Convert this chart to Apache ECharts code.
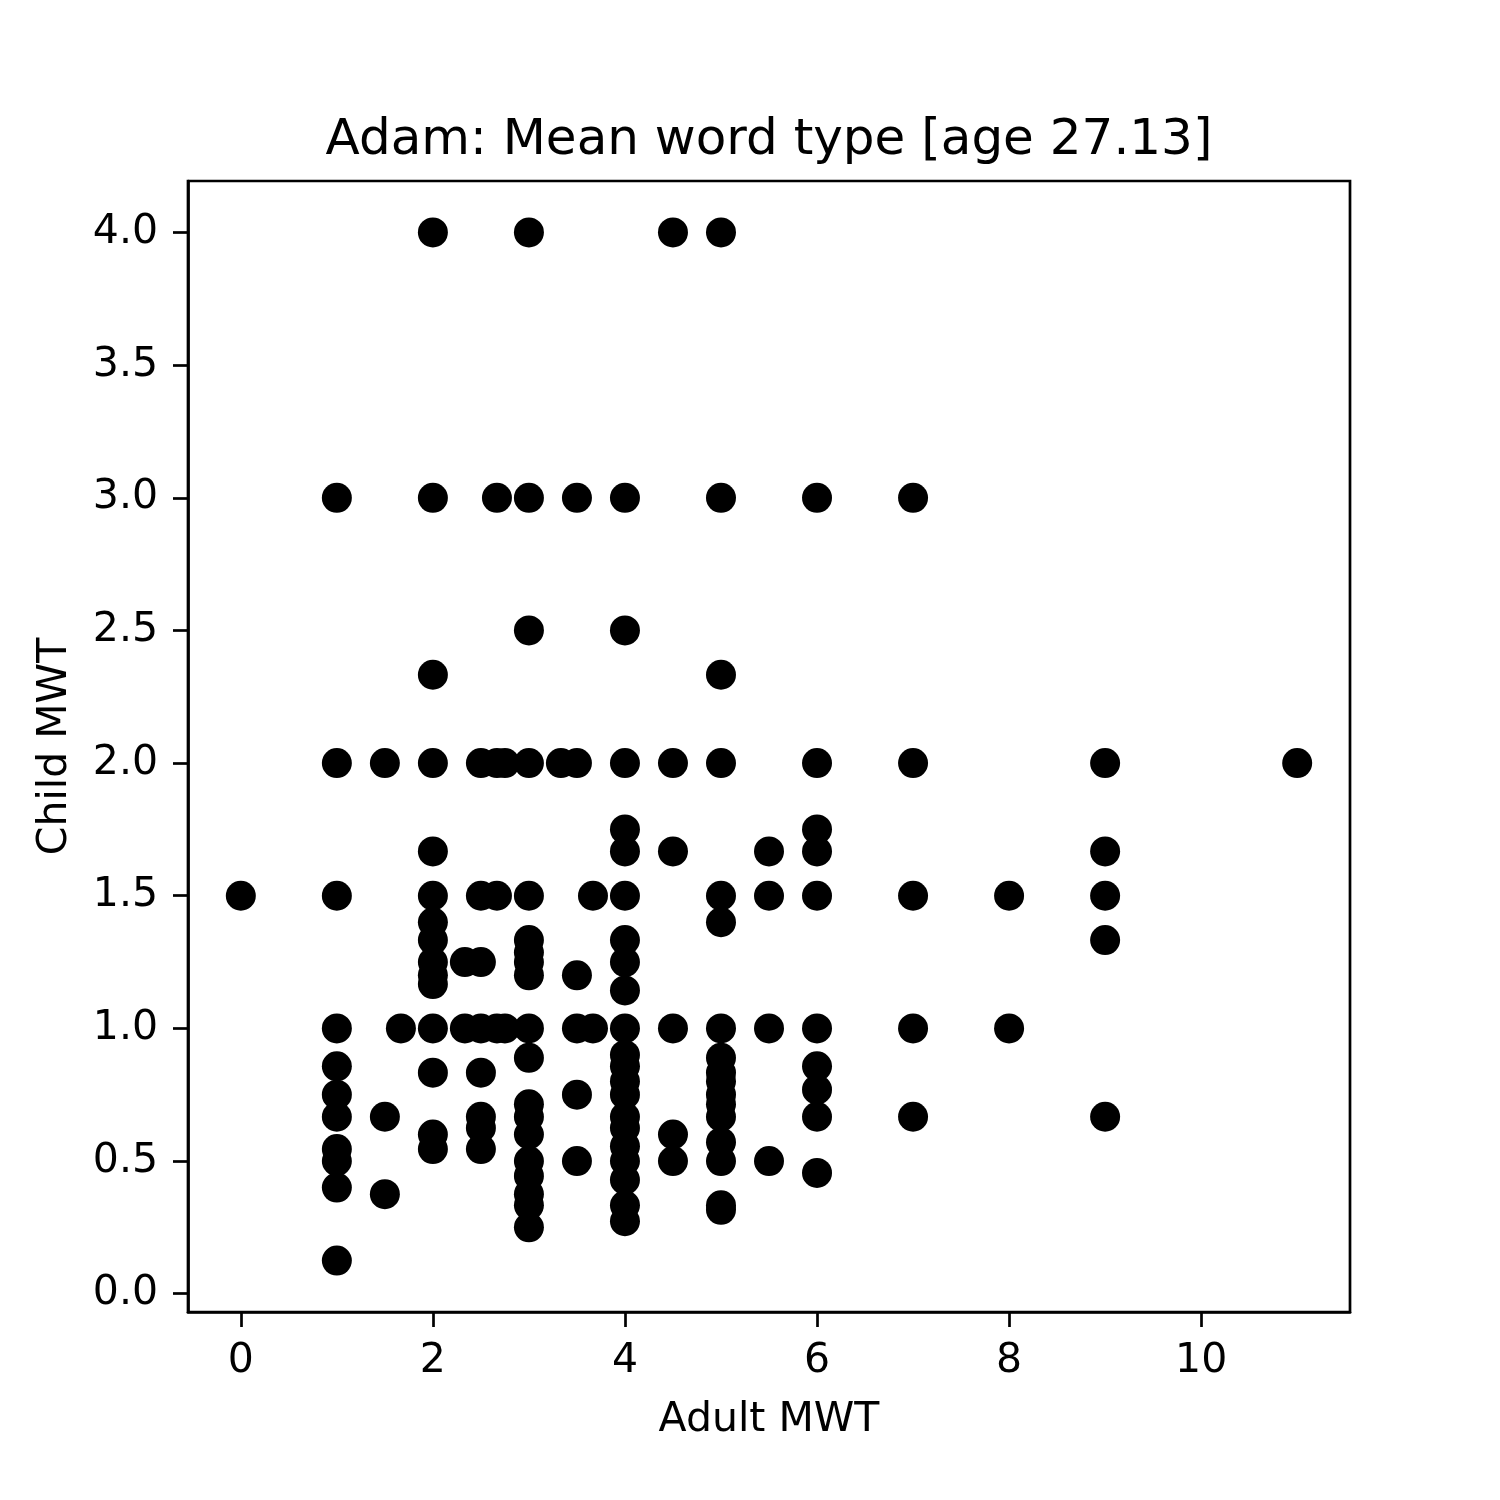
<!DOCTYPE html>
<html>
<head>
<meta charset="utf-8">
<script src="https://cdn.jsdelivr.net/npm/echarts@6/dist/echarts.min.js"></script>
<style>
  html, body { margin: 0; padding: 0; background: #fff; }
  #chart { width: 1500px; height: 1500px; }
</style>
</head>
<body>
<div id="chart"></div>
<script>
// adult MWT values, and the child MWT values seen at each of them
var adultValues = [0, 1, 1.5, 1.667, 2, 2.333, 2.5, 2.667, 2.75, 3, 3.333, 3.5, 3.667, 4, 4.5, 5, 5.5, 6, 7, 8, 9, 11];
var childByAdult = [
    [1.5],
    [3, 2, 1.5, 1, 0.857, 0.75, 0.667, 0.545, 0.5, 0.4, 0.125],
    [2, 0.667, 0.375],
    [1],
    [4, 3, 2.333, 2, 1.667, 1.5, 1.4, 1.333, 1.25, 1.2, 1.167, 1, 0.833, 0.6, 0.545],
    [1.25, 1],
    [2, 1.5, 1.25, 1, 0.833, 0.667, 0.625, 0.545],
    [3, 2, 1.5, 1],
    [2, 1],
    [4, 3, 2.5, 2, 1.5, 1.333, 1.286, 1.25, 1.2, 1, 0.889, 0.714, 0.667, 0.6, 0.5, 0.444, 0.375, 0.333, 0.25],
    [2],
    [3, 2, 1.2, 1, 0.75, 0.5],
    [1.5, 1],
    [3, 2.5, 2, 1.75, 1.667, 1.5, 1.333, 1.25, 1.143, 1, 0.9, 0.857, 0.8, 0.75, 0.667, 0.625, 0.556, 0.5, 0.429, 0.333, 0.273],
    [4, 2, 1.667, 1, 0.6, 0.5],
    [4, 3, 2.333, 2, 1.5, 1.4, 1, 0.889, 0.833, 0.8, 0.75, 0.714, 0.667, 0.571, 0.5, 0.333, 0.316],
    [1.667, 1.5, 1, 0.5],
    [3, 2, 1.75, 1.667, 1.5, 1, 0.857, 0.769, 0.667, 0.455],
    [3, 2, 1.5, 1, 0.667],
    [1.5, 1],
    [2, 1.667, 1.5, 1.333, 0.667],
    [2]
];
var xTicks = [0, 2, 4, 6, 8, 10];
var yTicks = [0, 0.5, 1, 1.5, 2, 2.5, 3, 3.5, 4];

var points = [];
adultValues.forEach(function (a, i) {
    childByAdult[i].forEach(function (c) {
        points.push([a, c]);
    });
});

var chart = echarts.init(document.getElementById('chart'));
var font = 'DejaVu Sans';

option = {
    animation: false,
    title: {
        text: 'Adam: Mean word type [age 27.13]',
        left: 764,
        top: 111,
        textAlign: 'center',
        textStyle: {fontFamily: font, fontSize: 50, fontWeight: 'normal', color: '#000'}
    },
    grid: {
        left: 188,
        right: 150,
        top: 181,
        bottom: 188,
        show: true,
        borderColor: '#000',
        borderWidth: 2.7,
        backgroundColor: '#fff'
    },
    xAxis: {
        type: 'value',
        min: -0.55,
        max: 11.55,
        name: 'Adult MWT',
        nameLocation: 'middle',
        nameGap: 88,
        nameTextStyle: {fontFamily: font, fontSize: 41, color: '#000'},
        splitLine: {show: false},
        axisLine: {show: true, onZero: false, lineStyle: {color: '#000', width: 2.7}},
        axisTick: {show: true, length: 15, lineStyle: {color: '#000', width: 2.7}, customValues: xTicks},
        axisLabel: {fontFamily: font, fontSize: 41, color: '#000', margin: 29, customValues: xTicks}
    },
    yAxis: {
        type: 'value',
        min: -0.069,
        max: 4.194,
        name: 'Child MWT',
        nameLocation: 'middle',
        nameGap: 112,
        nameTextStyle: {fontFamily: font, fontSize: 41, color: '#000'},
        splitLine: {show: false},
        axisLine: {show: true, onZero: false, lineStyle: {color: '#000', width: 2.7}},
        axisTick: {show: true, length: 15, lineStyle: {color: '#000', width: 2.7}, customValues: yTicks},
        axisLabel: {
            fontFamily: font, fontSize: 41, color: '#000', margin: 30, customValues: yTicks,
            formatter: function (v) { return v.toFixed(1); }
        }
    },
    series: [{
        type: 'scatter',
        data: points,
        symbol: 'circle',
        symbolSize: 30,
        itemStyle: {color: '#000', opacity: 1}
    }]
};
chart.setOption(option);
</script>
</body>
</html>
